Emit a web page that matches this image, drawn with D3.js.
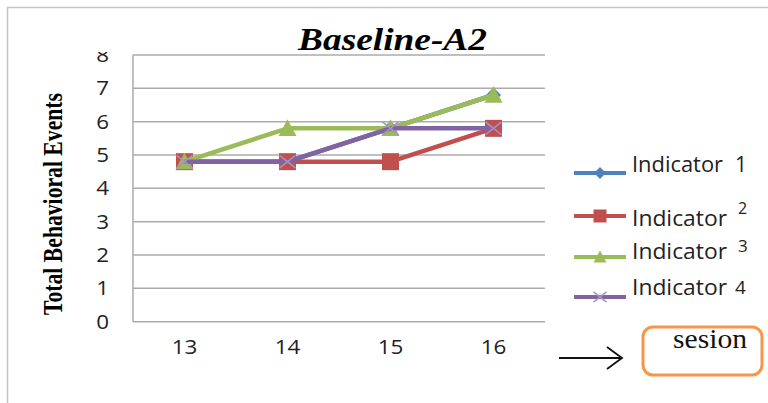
<!DOCTYPE html>
<html>
<head>
<meta charset="utf-8">
<script src="https://cdn.jsdelivr.net/npm/d3@7"></script>
<style>
  html, body { margin: 0; padding: 0; background: #fff; }
  svg { display: block; }
</style>
</head>
<body>
<svg id="chart" width="768" height="403"></svg>
<script>
// Sessions on the x axis and behaviour counts per indicator
const sessions = ["13", "14", "15", "16"];
const indicator1 = [4.8, 4.8, 5.8, 6.8];
const indicator2 = [4.8, 4.8, 4.8, 5.8];
const indicator3 = [4.8, 5.8, 5.8, 6.8];
const indicator4 = [4.8, 4.8, 5.8, 5.8];
const seriesNames = ["Indicator 1", "Indicator 2", "Indicator 3", "Indicator 4"];
const yTicks = [0, 1, 2, 3, 4, 5, 6, 7, 8];
const titleText = "Baseline-A2";
const yAxisTitle = "Total Behavioral Events";
const noteText = "sesion";

const series = [
  { name: seriesNames[0], values: indicator1, color: "#4F81BD", marker: "diamond" },
  { name: seriesNames[1], values: indicator2, color: "#C0504D", marker: "square" },
  { name: seriesNames[2], values: indicator3, color: "#9BBB59", marker: "triangle" },
  { name: seriesNames[3], values: indicator4, color: "#8064A2", marker: "cross" }
];

const svg = d3.select("#chart");
const plot = { left: 133, right: 545, top: 55, bottom: 321.7 };

const x = d3.scalePoint().domain(sessions).range([plot.left, plot.right]).padding(0.5);
const y = d3.scaleLinear().domain([0, 8]).range([plot.bottom, plot.top]);

const SANS = "'Open Sans', 'Liberation Sans', sans-serif";
const SERIF = "'Liberation Serif', 'DejaVu Serif', serif";

// Outer chart frame (only top and left edges fall inside the page)
svg.append("line").attr("x1", 7).attr("x2", 768).attr("y1", 7.5).attr("y2", 7.5)
  .attr("stroke", "#c4c4c4").attr("stroke-width", 1.5);
svg.append("line").attr("x1", 7.5).attr("x2", 7.5).attr("y1", 7).attr("y2", 403)
  .attr("stroke", "#c4c4c4").attr("stroke-width", 1.5);

// Title
svg.append("text")
  .attr("x", 298).attr("y", 50)
  .attr("font-family", SERIF).attr("font-weight", "bold").attr("font-style", "italic")
  .attr("font-size", 32).attr("fill", "#000")
  .attr("textLength", 189).attr("lengthAdjust", "spacingAndGlyphs")
  .text(titleText);

// Horizontal gridlines
svg.append("g").selectAll("line").data(yTicks.filter(d => d > 0)).join("line")
  .attr("x1", plot.left).attr("x2", plot.right)
  .attr("y1", d => y(d)).attr("y2", d => y(d))
  .attr("stroke", "#ababab").attr("stroke-width", 1.5);

// Axis lines
svg.append("line").attr("x1", plot.left).attr("x2", plot.left)
  .attr("y1", plot.top).attr("y2", plot.bottom)
  .attr("stroke", "#ababab").attr("stroke-width", 1.5);
svg.append("line").attr("x1", plot.left).attr("x2", plot.right)
  .attr("y1", plot.bottom).attr("y2", plot.bottom)
  .attr("stroke", "#ababab").attr("stroke-width", 1.5);

// Y tick labels (top label is cut off by the plot's top edge)
svg.append("defs").append("clipPath").attr("id", "ytick-clip")
  .append("rect").attr("x", 80).attr("y", 52).attr("width", 50).attr("height", 300);
svg.append("g").attr("clip-path", "url(#ytick-clip)")
  .selectAll("text").data(yTicks).join("text")
  .attr("transform", d => `translate(109,${y(d) + 7}) scale(1.12,1)`)
  .attr("text-anchor", "end")
  .attr("font-family", SANS).attr("font-size", 20).attr("fill", "#222")
  .text(d => d);

// X tick labels
svg.append("g").selectAll("text").data(sessions).join("text")
  .attr("transform", d => `translate(${x(d)},354) scale(1.12,1)`)
  .attr("text-anchor", "middle")
  .attr("font-family", SANS).attr("font-size", 20).attr("fill", "#222")
  .text(d => d);

// Y axis title
svg.append("text")
  .attr("transform", "translate(62,204) scale(1.25,1) rotate(-90)")
  .attr("text-anchor", "middle")
  .attr("font-family", SERIF).attr("font-weight", "bold").attr("font-size", 21)
  .attr("fill", "#000")
  .attr("textLength", 222).attr("lengthAdjust", "spacingAndGlyphs")
  .text(yAxisTitle);

// Marker drawing
function drawMarker(g, type, color, size) {
  const h = size / 2;
  if (type === "diamond") {
    g.append("path").attr("d", `M0,${-h}L${h},0L0,${h}L${-h},0Z`).attr("fill", color);
  } else if (type === "square") {
    g.append("rect").attr("x", -h).attr("y", -h).attr("width", size).attr("height", size)
      .attr("fill", color);
  } else if (type === "triangle") {
    g.append("path").attr("d", `M0,${-h}L${h},${h * 0.85}L${-h},${h * 0.85}Z`).attr("fill", color);
  } else if (type === "cross") {
    g.append("path").attr("d", `M${-h},${-h * 0.8}L${h},${h * 0.8}M${-h},${h * 0.8}L${h},${-h * 0.8}`)
      .attr("stroke", "#a692c8").attr("stroke-width", 1.5).attr("fill", "none");
  }
}

const lineGen = d3.line().x((d, i) => x(sessions[i])).y(d => y(d));

// Series lines and markers
series.forEach(s => {
  const g = svg.append("g");
  g.append("path").attr("d", lineGen(s.values))
    .attr("fill", "none").attr("stroke", s.color).attr("stroke-width", 4.5)
    .attr("stroke-linejoin", "round");
  s.values.forEach((v, i) => {
    const m = g.append("g").attr("transform", `translate(${x(sessions[i])},${y(v)})`);
    const size = s.marker === "diamond" ? 15 : s.marker === "square" ? 17 : s.marker === "triangle" ? 18 : 16;
    drawMarker(m, s.marker, s.color, size);
  });
});

// Legend
const legendRows = [
  { lineY: 173, textY: 172, numY: 172, numSize: 21, numX: 735 },
  { lineY: 216, textY: 226, numY: 214, numSize: 16, numX: 738 },
  { lineY: 257, textY: 259, numY: 252, numSize: 17, numX: 738 },
  { lineY: 297, textY: 295, numY: 294, numSize: 19, numX: 735 }
];
series.forEach((s, i) => {
  const r = legendRows[i];
  const g = svg.append("g");
  g.append("line").attr("x1", 574).attr("x2", 626).attr("y1", r.lineY).attr("y2", r.lineY)
    .attr("stroke", s.color).attr("stroke-width", 4);
  const m = g.append("g").attr("transform", `translate(600,${r.lineY})`);
  drawMarker(m, s.marker, s.color, s.marker === "diamond" ? 12 : 13);
  const parts = s.name.split(" ");
  g.append("text").attr("x", 632).attr("y", r.textY)
    .attr("font-family", SANS).attr("font-size", 21).attr("fill", "#222")
    .attr("textLength", i === 0 ? 91 : 95).attr("lengthAdjust", "spacingAndGlyphs")
    .text(parts[0]);
  g.append("text").attr("x", r.numX).attr("y", r.numY)
    .attr("font-family", SANS).attr("font-size", r.numSize).attr("fill", "#222")
    .text(parts[1]);
});

// Arrow pointing to the session note
const arrow = svg.append("g").attr("stroke", "#111").attr("stroke-width", 1.8).attr("fill", "none");
arrow.append("line").attr("x1", 559).attr("x2", 622).attr("y1", 358).attr("y2", 358);
arrow.append("path").attr("d", "M607,347L622,358L607,369");

// Note box
svg.append("rect").attr("x", 643).attr("y", 327).attr("width", 119).attr("height", 48)
  .attr("rx", 10).attr("ry", 10)
  .attr("fill", "none").attr("stroke", "#F79646").attr("stroke-width", 3);
svg.append("text").attr("x", 673).attr("y", 348)
  .attr("font-family", SERIF).attr("font-size", 27).attr("fill", "#111")
  .attr("textLength", 74).attr("lengthAdjust", "spacingAndGlyphs")
  .text(noteText);
</script>
</body>
</html>
